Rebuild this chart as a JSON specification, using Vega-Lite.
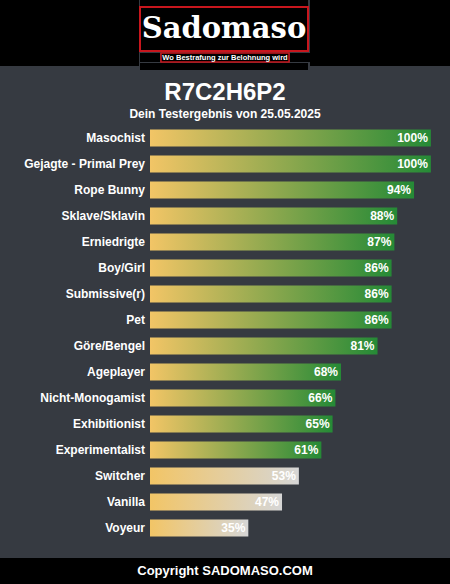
{
  "$schema": "https://vega.github.io/schema/vega-lite/v6.json",
  "background": "#363a41",
  "padding": 0,
  "spacing": 11,
  "config": {"view": {"stroke": null}, "font": "Liberation Sans"},
  "vconcat": [
    {
      "spacing": 0,
      "hconcat": [
        {"width": 139, "height": 66, "data": {"values": [{}]}, "mark": {"type": "text", "text": "", "fontSize": 1}, "view": {"fill": "#000000"}},
        {
          "spacing": 0,
          "vconcat": [
            {"width": 168, "height": 6, "data": {"values": [{}]}, "mark": {"type": "text", "text": "", "fontSize": 1}, "view": {"fill": "#000000"}},
            {
              "width": 168, "height": 44,
              "data": {"values": [{"t": "Sadomaso"}]},
              "mark": {"type": "text", "font": "DejaVu Serif", "fontWeight": "bold", "fontSize": 29, "color": "#ffffff", "align": "center", "baseline": "middle"},
              "encoding": {"text": {"field": "t"}},
              "view": {"fill": "#000000", "stroke": "#c8161d", "strokeWidth": 2}
            },
            {
              "spacing": 0,
              "hconcat": [
                {"width": 20, "height": 9, "data": {"values": [{}]}, "mark": {"type": "text", "text": "", "fontSize": 1}, "view": {"fill": "#000000"}},
                {
                  "width": 128, "height": 9,
                  "data": {"values": [{"t": "Wo Bestrafung zur Belohnung wird"}]},
                  "mark": {"type": "text", "fontWeight": "bold", "fontSize": 7.5, "color": "#ffffff", "align": "center", "baseline": "middle"},
                  "encoding": {"text": {"field": "t"}},
                  "view": {"fill": "#000000", "stroke": "#c8161d", "strokeWidth": 1.5}
                },
                {"width": 20, "height": 9, "data": {"values": [{}]}, "mark": {"type": "text", "text": "", "fontSize": 1}, "view": {"fill": "#000000"}}
              ]
            },
            {"width": 168, "height": 7, "data": {"values": [{}]}, "mark": {"type": "text", "text": "", "fontSize": 1}, "view": {"fill": "#000000"}}
          ]
        },
        {"width": 143, "height": 66, "data": {"values": [{}]}, "mark": {"type": "text", "text": "", "fontSize": 1}, "view": {"fill": "#000000"}}
      ]
    },
    {
      "spacing": 17,
      "vconcat": [
        {
          "width": 450,
          "height": 416,
          "title": {
            "text": "R7C2H6P2",
            "subtitle": "Dein Testergebnis von 25.05.2025",
            "anchor": "middle",
            "font": "Liberation Sans",
            "fontSize": 24,
            "fontWeight": "bold",
            "color": "#ffffff",
            "subtitleFont": "Liberation Sans",
            "subtitleFontSize": 12,
            "subtitleFontWeight": "bold",
            "subtitleColor": "#ffffff",
            "subtitlePadding": 4,
            "offset": 5
          },
          "data": {
            "values": [
              {"name": "Masochist", "value": 1.00},
              {"name": "Gejagte - Primal Prey", "value": 1.00},
              {"name": "Rope Bunny", "value": 0.94},
              {"name": "Sklave/Sklavin", "value": 0.88},
              {"name": "Erniedrigte", "value": 0.87},
              {"name": "Boy/Girl", "value": 0.86},
              {"name": "Submissive(r)", "value": 0.86},
              {"name": "Pet", "value": 0.86},
              {"name": "Göre/Bengel", "value": 0.81},
              {"name": "Ageplayer", "value": 0.68},
              {"name": "Nicht-Monogamist", "value": 0.66},
              {"name": "Exhibitionist", "value": 0.65},
              {"name": "Experimentalist", "value": 0.61},
              {"name": "Switcher", "value": 0.53},
              {"name": "Vanilla", "value": 0.47},
              {"name": "Voyeur", "value": 0.35}
            ]
          },
          "encoding": {
            "y": {"field": "name", "type": "nominal", "sort": null, "axis": null, "scale": {"paddingInner": 0.3462, "paddingOuter": 0.1731}}
          },
          "layer": [
            {
              "transform": [{"filter": "datum.value >= 0.6"}],
              "mark": {"type": "bar", "color": {"gradient": "linear", "x1": 0, "y1": 0, "x2": 1, "y2": 0, "stops": [{"offset": 0, "color": "#f2c566"}, {"offset": 1, "color": "#258a36"}]}},
              "encoding": {
                "x": {"field": "value", "type": "quantitative", "axis": null, "scale": {"domain": [-0.534, 1.068], "nice": false}},
                "x2": {"datum": 0}
              }
            },
            {
              "transform": [{"filter": "datum.value < 0.6"}],
              "mark": {"type": "bar", "color": {"gradient": "linear", "x1": 0, "y1": 0, "x2": 1, "y2": 0, "stops": [{"offset": 0, "color": "#f2c566"}, {"offset": 1, "color": "#d6d6d6"}]}},
              "encoding": {
                "x": {"field": "value", "type": "quantitative"},
                "x2": {"datum": 0}
              }
            },
            {
              "mark": {"type": "text", "align": "right", "baseline": "middle", "dx": -5, "fontWeight": "bold", "fontSize": 12, "color": "#ffffff"},
              "encoding": {
                "x": {"datum": 0, "type": "quantitative"},
                "text": {"field": "name"}
              }
            },
            {
              "mark": {"type": "text", "align": "right", "baseline": "middle", "dx": -3, "fontWeight": "bold", "fontSize": 12, "color": "#ffffff"},
              "encoding": {
                "x": {"field": "value", "type": "quantitative"},
                "text": {"field": "value", "format": ".0%"}
              }
            }
          ]
        },
        {
          "width": 450,
          "height": 26,
          "data": {"values": [{"t": "Copyright SADOMASO.COM"}]},
          "mark": {"type": "text", "fontWeight": "bold", "fontSize": 13, "color": "#ffffff", "align": "center", "baseline": "middle"},
          "encoding": {"text": {"field": "t"}},
          "view": {"fill": "#000000"}
        }
      ]
    }
  ]
}
